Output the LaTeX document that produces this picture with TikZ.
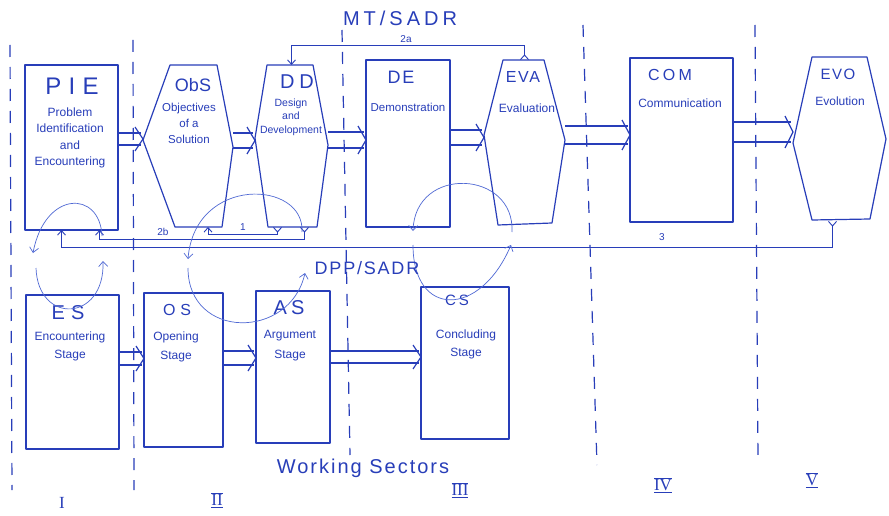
\documentclass[tikz,border=0pt]{standalone}
\usepackage{fontspec}
\setmainfont{Liberation Sans}
\newfontfamily\numfont{Liberation Serif}
\usetikzlibrary{arrows.meta,calc}
\definecolor{inkc}{RGB}{40,62,185}
\definecolor{loopcol}{RGB}{80,105,212}
\tikzset{
  ink/.style={draw=inkc, line width=1.2pt, line join=round},
  box/.style={ink, rectangle, inner sep=0pt, outer sep=0pt},
  inv/.style={rectangle, inner sep=0pt, outer sep=0pt},
  ttl/.style={text=inkc, inner sep=0pt},
  desc/.style={text=inkc, align=center, inner sep=0pt},
  lbl/.style={text=inkc, inner sep=0pt, font=\fontsize{10}{10}\selectfont},
  conn/.style={draw=inkc, line width=0.9pt, {Straight Barb[reversed,length=4.5pt,width=8pt]}-{Straight Barb[length=4.5pt,width=8pt]}},
  loopst/.style={draw=loopcol, line width=0.7pt, -{Straight Barb[length=5pt,width=9pt]}},
  sector/.style={draw=inkc, line width=1.2pt, dash pattern=on 12pt off 10pt}
}
\newcommand\barrow[4]{%
  \coordinate (bA) at (0,#3);
  \coordinate (bB) at (0,#4);
  \coordinate (bM) at (0,{(#3+#4)/2});
  \draw[ink] (#1.east |- bA) -- ($(#2.west |- bA)+(-2,0)$);
  \draw[ink] (#1.east |- bB) -- ($(#2.west |- bB)+(-2,0)$);
  \draw[ink, line join=miter] ($(#2.west |- bA)+(-8,-6)$) -- (#2.west |- bM) -- ($(#2.west |- bB)+(-8,6)$);
}
\begin{document}
\begin{tikzpicture}[x=1pt,y=-1pt]
\useasboundingbox (0,0) rectangle (889,516);
\fill[white] (0,0) rectangle (889,516);

% sector separators
\draw[sector] (10,45) -- (12,490);
\draw[sector] (133,40) -- (134,490);
\draw[sector] (342,30) -- (350,455);
\draw[sector] (583,25) -- (597,465);
\draw[sector] (755,25) -- (758,460);

% top row
\node[box, minimum width=93, minimum height=165, anchor=north west] (pie) at (25,65) {};
\node[inv, minimum width=90, minimum height=162, anchor=north west] (obs) at (143,65) {};
\draw[ink] (170,65) -- (217,65) -- (233,147) -- (222,227) -- (175,227) -- (143,140) -- cycle;
\node[inv, minimum width=73, minimum height=162, anchor=north west] (dd) at (255,65) {};
\draw[ink] (267,65) -- (313,65) -- (328,145) -- (317,227) -- (268,227) -- (255,138) -- cycle;
\node[box, minimum width=84, minimum height=167, anchor=north west] (de) at (366,60) {};
\node[inv, minimum width=81, minimum height=165, anchor=north west] (eva) at (484,60) {};
\draw[ink] (503,60) -- (544,60) -- (565,140) -- (552,223) -- (498,225) -- (484,135) -- cycle;
\node[box, minimum width=103, minimum height=164, anchor=north west] (com) at (630,58) {};
\node[inv, minimum width=93, minimum height=164, anchor=north west] (evo) at (793,57) {};
\draw[ink] (812,57) -- (867,57) -- (886,139) -- (870,219) -- (812,220) -- (793,143) -- cycle;

% bottom row
\node[box, minimum width=93, minimum height=154, anchor=north west] (es) at (26,295) {};
\node[box, minimum width=79, minimum height=154, anchor=north west] (os) at (144,293) {};
\node[box, minimum width=74, minimum height=152, anchor=north west] (as) at (256,291) {};
\node[box, minimum width=88, minimum height=152, anchor=north west] (cs) at (421,287) {};

% titles
\node[ttl, font=\fontsize{24}{24}\selectfont\addfontfeature{LetterSpace=30}] (tpie) at (72,86) {PIE};
\node[ttl, font=\fontsize{18}{18}\selectfont] (tobs) at (193,85) {ObS};
\node[ttl, font=\fontsize{20}{20}\selectfont\addfontfeature{LetterSpace=25}] (tdd) at (297,82) {DD};
\node[ttl, font=\fontsize{18}{18}\selectfont\addfontfeature{LetterSpace=10}] (tde) at (401,77) {DE};
\node[ttl, font=\fontsize{16}{16}\selectfont\addfontfeature{LetterSpace=10}] (teva) at (523,77) {EVA};
\node[ttl, font=\fontsize{16}{16}\selectfont\addfontfeature{LetterSpace=20}] (tcom) at (670,75) {COM};
\node[ttl, font=\fontsize{15}{15}\selectfont\addfontfeature{LetterSpace=10}] (tevo) at (838,74) {EVO};
\node[ttl, font=\fontsize{20}{20}\selectfont\addfontfeature{LetterSpace=30}] (tes) at (68,313) {ES};
\node[ttl, font=\fontsize{16}{16}\selectfont\addfontfeature{LetterSpace=30}] (tos) at (177,310) {OS};
\node[ttl, font=\fontsize{20}{20}\selectfont\addfontfeature{LetterSpace=20}] (tas) at (289,308) {AS};
\node[ttl, font=\fontsize{15}{15}\selectfont\addfontfeature{LetterSpace=20}] (tcs) at (457,300) {CS};

% descriptions
\node[desc, font=\fontsize{12}{16.5}\selectfont] (dpie) at (70,138) {Problem\\Identification\\and\\Encountering};
\node[desc, font=\fontsize{11.5}{16}\selectfont] (dobs) at (189,123) {Objectives\\of a\\Solution};
\node[desc, font=\fontsize{10.5}{13.5}\selectfont] (ddd) at (291,117) {Design\\and\\Development};
\node[desc, font=\fontsize{11.5}{14}\selectfont] (dde) at (408,107) {Demonstration};
\node[desc, font=\fontsize{12}{14}\selectfont] (deva) at (527,108) {Evaluation};
\node[desc, font=\fontsize{12}{14}\selectfont] (dcom) at (680,103) {Communication};
\node[desc, font=\fontsize{12}{14}\selectfont] (devo) at (840,101) {Evolution};
\node[desc, font=\fontsize{12}{18}\selectfont] (des) at (70,346) {Encountering\\Stage};
\node[desc, font=\fontsize{12}{19}\selectfont] (dos) at (176,347) {Opening\\Stage};
\node[desc, font=\fontsize{12}{20}\selectfont] (das) at (290,346) {Argument\\Stage};
\node[desc, font=\fontsize{12}{18}\selectfont] (dcs) at (466,344) {Concluding\\Stage};

% block arrows
\barrow{pie}{obs}{133}{145}
\barrow{obs}{dd}{133}{148}
\barrow{dd}{de}{132}{148}
\barrow{de}{eva}{130}{145}
\barrow{eva}{com}{126}{144}
\barrow{com}{evo}{122}{142}
\barrow{es}{os}{352}{365}
\barrow{os}{as}{351}{365}
\barrow{as}{cs}{351}{363}

% feedback connectors
\coordinate (y2a) at (0,45);
\draw[conn] (eva.north) -- (eva.north |- y2a) -| (dd.north);
\node[lbl] (l2a) at (406,39) {2a};
\draw[conn] ($(dd.south)+(-14,0)$) -- ++(0,7) -| ($(obs.south)+(20,0)$);
\node[lbl] (l1) at (243,227) {1};
\draw[conn] ($(dd.south)+(13,0)$) -- ++(0,12) -| ($(pie.south)+(28,0)$);
\node[lbl] (l2b) at (163,232) {2b};
\draw[conn] ($(evo.south)+(-7,0)$) -- ++(0,26) -| ($(pie.south)+(-10,0)$);
\node[lbl] (l3) at (662,237) {3};

% circular correspondence loops
\coordinate (la1) at (102,236);
\coordinate (la2) at (33,253);
\coordinate (la3) at (36,268);
\coordinate (la4) at (103,261);
\draw[loopst] (la1) .. controls (100,190) and (45,190) .. (la2);
\draw[loopst] (la3) .. controls (38,325) and (105,322) .. (la4);
\coordinate (lb1) at (302,232);
\coordinate (lb2) at (188,259);
\coordinate (lb3) at (188,268);
\coordinate (lb4) at (305,273);
\draw[loopst] (lb1) .. controls (305,180) and (195,175) .. (lb2);
\draw[loopst] (lb3) .. controls (188,340) and (290,340) .. (lb4);
\coordinate (lc1) at (512,232);
\coordinate (lc2) at (413,231);
\coordinate (lc3) at (413,245);
\coordinate (lc4) at (511,245);
\draw[loopst] (lc1) .. controls (515,170) and (415,165) .. (lc2);
\draw[loopst] (lc3) .. controls (413,318) and (480,318) .. (lc4);

% headings
\node[ttl, font=\fontsize{20}{20}\selectfont\addfontfeature{LetterSpace=20}] (mt) at (400,18) {MT/SADR};
\node[ttl, font=\fontsize{18}{18}\selectfont\addfontfeature{LetterSpace=10}] (dpp) at (367,268) {DPP/SADR};
\node[ttl, font=\fontsize{20}{20}\selectfont\addfontfeature{LetterSpace=10}] (ws) at (363,468) {Working Sectors};

% sector numerals
\node[ttl, font=\fontsize{17}{17}\numfont] (s1) at (62,503) {I};
\node[ttl, font=\fontsize{17}{17}\numfont] (s2) at (217,500) {$\overline{\underline{\hbox{\numfont II}}}$};
\node[ttl, font=\fontsize{17}{17}\numfont] (s3) at (460,490) {$\overline{\underline{\hbox{\numfont III}}}$};
\node[ttl, font=\fontsize{17}{17}\numfont] (s4) at (663,485) {$\overline{\underline{\hbox{\numfont IV}}}$};
\node[ttl, font=\fontsize{17}{17}\numfont] (s5) at (812,480) {$\overline{\underline{\hbox{\numfont V}}}$};
\end{tikzpicture}
\end{document}
